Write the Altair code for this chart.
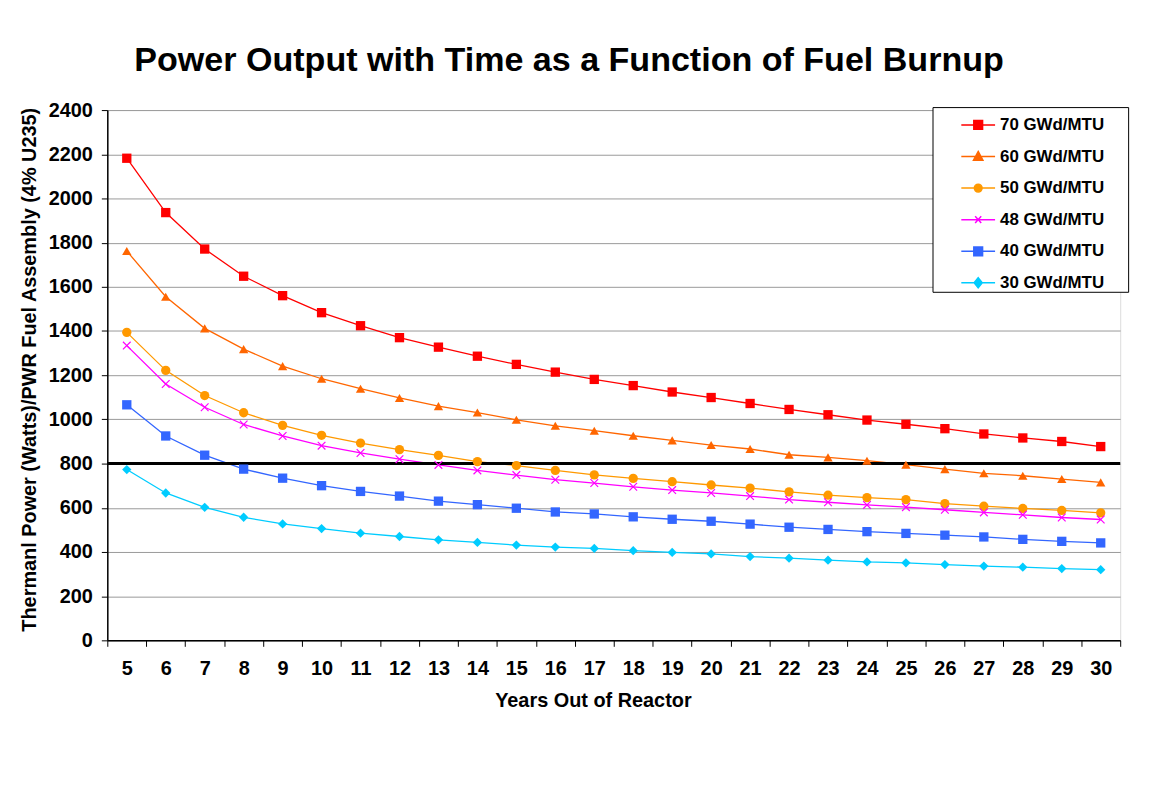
import altair as alt
import pandas as pd

years = list(range(5, 31))
series_names = ["70 GWd/MTU", "60 GWd/MTU", "50 GWd/MTU", "48 GWd/MTU", "40 GWd/MTU", "30 GWd/MTU"]
burn70 = [2182, 1936, 1771, 1648, 1560, 1483, 1424, 1370, 1327, 1286, 1249, 1214, 1181, 1153, 1124, 1099, 1072,
          1045, 1021, 997, 978, 958, 934, 916, 900, 877]
burn60 = [1762, 1555, 1412, 1318, 1241, 1184, 1139, 1097, 1060, 1031, 998, 971, 949, 926, 905, 884, 866,
          840, 828, 813, 795, 775, 756, 745, 730, 715]
burn50 = [1394, 1222, 1108, 1030, 973, 928, 893, 863, 837, 809, 791, 769, 749, 733, 718, 703, 689,
          672, 657, 646, 637, 619, 607, 597, 588, 577]
burn48 = [1334, 1160, 1055, 977, 925, 881, 848, 820, 794, 769, 748, 727, 712, 695, 680, 667, 653,
          637, 625, 613, 603, 591, 579, 568, 556, 547]
burn40 = [1066, 925, 838, 775, 734, 700, 674, 653, 630, 614, 598, 581, 572, 559, 548, 539, 526,
          512, 502, 492, 484, 476, 468, 457, 448, 441]
burn30 = [773, 667, 602, 557, 527, 506, 485, 470, 455, 443, 431, 422, 416, 406, 398, 391, 379,
          372, 363, 355, 351, 343, 336, 331, 325, 320]
threshold = 800
colors = ["#FF0000", "#FF6600", "#FF9900", "#FF00FF", "#3366FF", "#00CCFF"]
point_shapes = ["square", "triangle-up", "circle", "M-1,-1L1,1M-1,1L1,-1", "square", "diamond"]
point_filled = [True, True, True, False, True, True]
legend_paths = [
    "M-1,0H1M-0.26,-0.26H0.26V0.26H-0.26Z",
    "M-1,0H1M0,-0.3L0.28,0.22H-0.28Z",
    "M-1,0H1M0.23,0A0.23,0.23,0,1,1,-0.23,0A0.23,0.23,0,1,1,0.23,0Z",
    "M-1,0H1M-0.18,-0.2L0.18,0.2M-0.18,0.2L0.18,-0.2",
    "M-1,0H1M-0.26,-0.26H0.26V0.26H-0.26Z",
    "M-1,0H1M0,-0.3L0.24,0L0,0.3L-0.24,0Z",
]

all_values = [burn70, burn60, burn50, burn48, burn40, burn30]
rows = []
for name, vals in zip(series_names, all_values):
    for yr, v in zip(years, vals):
        rows.append({"year": yr, "value": v, "series": name})
df = pd.DataFrame(rows)

FONT = "Liberation Sans"

shape_expr = ""
for name, p in zip(series_names, legend_paths):
    shape_expr += f"datum.value === '{name}' ? '{p}' : "
shape_expr += "'circle'"

color_scale = alt.Scale(domain=series_names, range=colors)
legend = alt.Legend(
    title=None,
    orient="none",
    legendX=831,
    legendY=-3,
    fillColor="white",
    strokeColor="black",
    padding=0,
    symbolOffset=28,
    symbolSize=1156,
    symbolStrokeWidth=1.5,
    symbolType=alt.ExprRef(shape_expr),
    symbolStrokeColor=alt.ExprRef("scale('color', datum.value)"),
    symbolFillColor=alt.ExprRef("scale('color', datum.value)"),
    symbolOpacity=1,
    labelFont=FONT,
    labelFontSize=17,
    labelFontWeight="bold",
    labelColor="black",
    labelOffset=4,
    rowPadding=5.8,
    labelExpr="datum.label + '\u2800\u2800'",
)

x_enc = alt.X(
    "year:O",
    scale=alt.Scale(type="band", paddingInner=0, paddingOuter=0),
    axis=alt.Axis(
        title="Years Out of Reactor",
        labelAngle=0,
        tickBand="extent",
        grid=False,
        domainColor="black",
        domainWidth=1.5,
        tickColor="black",
        tickSize=6,
        labelPadding=12,
        labelFontSize=20,
        labelFontWeight="bold",
        labelFont=FONT,
        labelColor="black",
        titleFont=FONT,
        titleFontSize=20,
        titleFontWeight="bold",
        titleColor="black",
        titlePadding=13,
        titleX=489,
    ),
)
y_enc = alt.Y(
    "value:Q",
    scale=alt.Scale(domain=[0, 2400], nice=False),
    axis=alt.Axis(
        title="Thermanl Power (Watts)/PWR Fuel Assembly (4% U235)",
        values=list(range(0, 2401, 100)),
        format="d",
        labelExpr="datum.value % 200 === 0 ? datum.label : ''",
        grid=True,
        gridColor="#999999",
        gridWidth=1,
        gridOpacity={"condition": {"test": "datum.value % 200 === 0", "value": 1}, "value": 0},
        domainColor="black",
        domainWidth=1.5,
        tickColor="black",
        tickSize=6,
        labelPadding=9,
        labelFontSize=20,
        labelFontWeight="bold",
        labelFont=FONT,
        labelColor="black",
        titleFont=FONT,
        titleFontSize=20,
        titleFontWeight="bold",
        titleColor="black",
        titlePadding=9,
        titleY=261,
    ),
)

base = alt.Chart(df)
lines = base.mark_line(strokeWidth=1.3).encode(
    x=x_enc,
    y=y_enc,
    color=alt.Color("series:N", scale=color_scale, sort=series_names, legend=legend),
    detail="series:N",
)
point_layers = []
for name, shp, filled in zip(series_names, point_shapes, point_filled):
    point_layers.append(
        base.transform_filter(alt.datum.series == name)
        .mark_point(shape=shp, filled=filled, size=88 if filled else 60, strokeWidth=1.2, opacity=1)
        .encode(
            x=x_enc,
            y=y_enc,
            color=alt.Color("series:N", scale=color_scale, sort=series_names, legend=legend),
        )
    )
rule = alt.Chart(pd.DataFrame({"t": [threshold]})).mark_rule(color="black", strokeWidth=3).encode(
    y=alt.Y("t:Q")
)

chart = alt.layer(lines, rule, *point_layers).properties(
    width=1020,
    height=534,
    title=alt.Title(
        "Power Output with Time as a Function of Fuel Burnup",
        font=FONT,
        fontSize=34.3,
        fontWeight="bold",
        color="black",
        anchor="middle",
        dx=-45,
        offset=22,
    ),
    padding={"left": 100, "top": 100, "right": 28, "bottom": 159},
    autosize=alt.AutoSizeParams(type="none"),
).configure_view(stroke="#999999", strokeWidth=1).configure(background="white")

chart.save("out.html", embed_options={"renderer": "svg", "actions": False})
